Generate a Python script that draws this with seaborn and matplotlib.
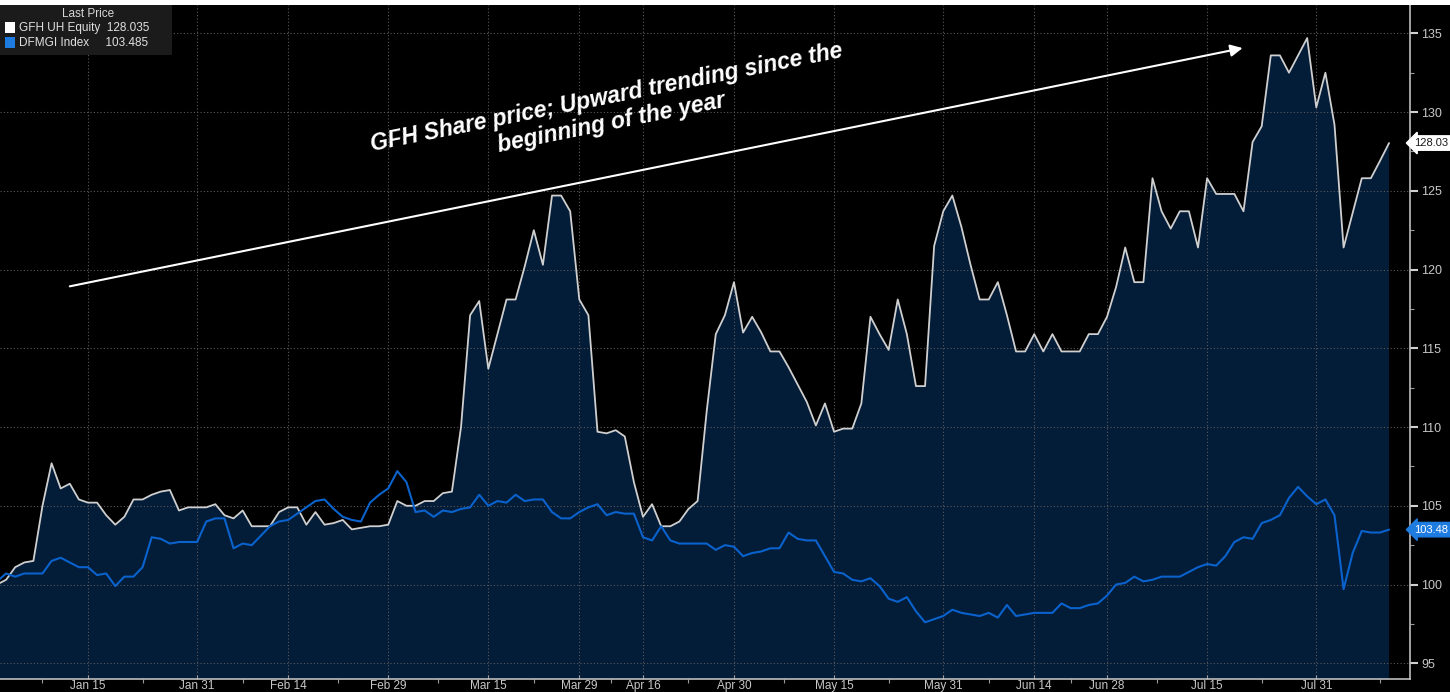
import numpy as np
import pandas as pd
import seaborn as sns
import matplotlib.pyplot as plt
from matplotlib.patches import Rectangle

# trading days (UAE market, Eid holidays removed)
holidays = ["2024-04-08", "2024-04-09", "2024-04-10", "2024-04-11", "2024-04-12",
            "2024-06-17", "2024-06-18"]
dates = pd.bdate_range("2024-01-01", "2024-08-12")
dates = dates[~dates.isin(pd.to_datetime(holidays))]

# GFH UH Equity, rebased to 100
gfh = [100.0, 100.3, 101.1, 101.4, 101.5, 105.0, 107.7, 106.1, 106.4, 105.4,
       105.2, 105.2, 104.4, 103.8, 104.3, 105.4, 105.4, 105.7, 105.9, 106.0,
       104.7, 104.9, 104.9,                                              # Jan
       104.9, 105.1, 104.4, 104.2, 104.7, 103.7, 103.7, 103.7, 104.6, 104.9,
       104.9, 103.8, 104.6, 103.8, 103.9, 104.1, 103.5, 103.6, 103.7, 103.7,
       103.8,                                                            # Feb
       105.3, 105.0, 105.0, 105.3, 105.3, 105.8, 105.9, 110.0, 117.1, 118.0,
       113.7, 115.9, 118.1, 118.1, 120.2, 122.5, 120.3, 124.7, 124.7, 123.7,
       118.1,                                                            # Mar
       117.1, 109.7, 109.6, 109.8, 109.4, 106.5, 104.3, 105.1, 103.7, 103.7,
       104.0, 104.8, 105.3, 111.0, 115.9, 117.1, 119.2,                  # Apr
       116.0, 117.0, 116.0, 114.8, 114.8, 113.8, 112.7, 111.6, 110.1, 111.5,
       109.7, 109.9, 109.9, 111.5, 117.0, 115.9, 114.9, 118.1, 115.9, 112.6,
       112.6, 121.5, 123.7,                                              # May
       124.7, 122.7, 120.3, 118.1, 118.1, 119.2, 117.1, 114.8, 114.8, 115.9,
       114.8, 115.9, 114.8, 114.8, 114.8, 115.9, 115.9, 117.0,           # Jun
       118.9, 121.4, 119.2, 119.2, 125.8, 123.7, 122.6, 123.7, 123.7, 121.4,
       125.8, 124.8, 124.8, 124.8, 123.7, 128.1, 129.1, 133.6, 133.6, 132.5,
       133.6, 134.7, 130.3,                                              # Jul
       132.5, 129.2, 121.4, 123.6, 125.8, 125.8, 126.9, 128.035]         # Aug

# DFMGI Index, rebased to 100
dfmgi = [100.2, 100.7, 100.5, 100.7, 100.7, 100.7, 101.5, 101.7, 101.4, 101.1,
         101.1, 100.6, 100.7, 99.9, 100.5, 100.5, 101.1, 103.0, 102.9, 102.6,
         102.7, 102.7, 102.7,
         104.0, 104.2, 104.2, 102.3, 102.6, 102.5, 103.1, 103.7, 104.0, 104.1,
         104.5, 104.9, 105.3, 105.4, 104.8, 104.3, 104.1, 104.0, 105.2, 105.7,
         106.1,
         107.2, 106.5, 104.6, 104.7, 104.3, 104.7, 104.6, 104.8, 104.9, 105.7,
         105.0, 105.3, 105.2, 105.7, 105.3, 105.4, 105.4, 104.6, 104.2, 104.2,
         104.6,
         104.9, 105.1, 104.4, 104.6, 104.5, 104.5, 103.0, 102.8, 103.7, 102.8,
         102.6, 102.6, 102.6, 102.6, 102.2, 102.5, 102.4,
         101.8, 102.0, 102.1, 102.3, 102.3, 103.3, 102.9, 102.8, 102.8, 101.8,
         100.8, 100.7, 100.3, 100.2, 100.4, 99.9, 99.1, 98.9, 99.2, 98.3,
         97.6, 97.8, 98.0,
         98.4, 98.2, 98.1, 98.0, 98.2, 97.9, 98.7, 98.0, 98.1, 98.2,
         98.2, 98.2, 98.8, 98.5, 98.5, 98.7, 98.8, 99.3,
         100.0, 100.1, 100.5, 100.2, 100.3, 100.5, 100.5, 100.5, 100.8, 101.1,
         101.3, 101.2, 101.8, 102.7, 103.0, 102.9, 103.9, 104.1, 104.4, 105.5,
         106.2, 105.6, 105.1,
         105.4, 104.4, 99.7, 102.0, 103.4, 103.3, 103.3, 103.485]

tick_dates = ["2024-01-15", "2024-01-31", "2024-02-14", "2024-02-29", "2024-03-15",
              "2024-03-29", "2024-04-16", "2024-04-30", "2024-05-15", "2024-05-31",
              "2024-06-14", "2024-06-28", "2024-07-15", "2024-07-31"]
tick_labels = ["Jan 15", "Jan 31", "Feb 14", "Feb 29", "Mar 15", "Mar 29", "Apr 16",
               "Apr 30", "May 15", "May 31", "Jun 14", "Jun 28", "Jul 15", "Jul 31"]
y_ticks = [95, 100, 105, 110, 115, 120, 125, 130, 135]

note = "GFH Share price; Upward trending since the\nbeginning of the year"

df = pd.DataFrame({"pos": np.arange(len(dates)), "GFH": gfh, "DFMGI": dfmgi})

sns.set_theme(style="dark")
plt.rcParams["font.family"] = ["Liberation Sans", "DejaVu Sans"]

W, H = 1450, 692
fig = plt.figure(figsize=(W / 100, H / 100), dpi=100, facecolor="black")
ax = fig.add_axes([0, 13 / H, 1410 / W, (679 - 5) / H])
ax.set_facecolor("black")

fill_col = "#031c38"
grey_col = "#cfcfcf"
blue_col = "#0a62cc"

ax.fill_between(df["pos"], df["GFH"], 90, color=fill_col, zorder=1, lw=0)
sns.lineplot(data=df, x="pos", y="GFH", ax=ax, color=grey_col, lw=1.3, zorder=3)
sns.lineplot(data=df, x="pos", y="DFMGI", ax=ax, color=blue_col, lw=1.5, zorder=4)

ax.set_xlim(0.33, 155.3)

tick_pos = [dates.get_loc(pd.Timestamp(d)) for d in tick_dates]
ax.set_xticks(tick_pos)
ax.set_xticklabels(tick_labels)
minor_x = [(a + b) / 2 for a, b in zip([0] + tick_pos[:-1], tick_pos)] + [tick_pos[-1] + 7]
ax.set_xticks(minor_x, minor=True)

ax.yaxis.tick_right()
ax.set_yticks(y_ticks)
ax.set_yticks([v + 2.5 for v in y_ticks[:-1]] + [92.5, 137.5], minor=True)
ax.set_ylim(94.0, 136.8)

ax.set_xlabel("")
ax.set_ylabel("")
ax.grid(True, which="major", color="#5a5a5a", linestyle=(0, (1, 2)), lw=0.8)
ax.set_axisbelow("line")

for side in ["left", "top"]:
    ax.spines[side].set_visible(False)
for side in ["right", "bottom"]:
    ax.spines[side].set_visible(True)
    ax.spines[side].set_color("#bdbdbd")
    ax.spines[side].set_linewidth(1.2)

ax.tick_params(axis="y", which="major", right=True, direction="out", length=6, width=1.5,
               color="#d0d0d0", labelcolor="#c8c8c8", labelsize=9, pad=2)
ax.tick_params(axis="y", which="minor", right=True, direction="out", length=3, width=0.8,
               color="#9a9a9a")
ax.tick_params(axis="x", which="major", bottom=True, direction="in", length=3, width=0.8,
               color="#9a9a9a", labelcolor="#c8c8c8", labelsize=8.5, pad=0.5)
ax.tick_params(axis="x", which="minor", bottom=True, direction="out", length=3, width=0.8,
               color="#9a9a9a")

# annotation arrow and note
ax.annotate("", xy=(137.2, 134.1), xytext=(7.7, 118.9),
            arrowprops=dict(arrowstyle="-|>", color="white", lw=1.5, mutation_scale=18))
ax.text(67.3, 130.1, note, color="white", fontsize=16.5, fontweight="bold",
        fontstyle="italic", rotation=11.3, ha="center", va="center",
        multialignment="center", linespacing=1.15, rotation_mode="anchor")

# last value tags on the right axis
ax.annotate(f"{gfh[-1]:.2f}", xy=(1.003, gfh[-1]), xycoords=("axes fraction", "data"),
            ha="left", va="center", fontsize=8, color="#1a1a1a",
            bbox=dict(boxstyle="larrow,pad=0.2", fc="white", ec="white"),
            annotation_clip=False)
ax.annotate(f"{dfmgi[-1]:.2f}", xy=(1.003, dfmgi[-1]), xycoords=("axes fraction", "data"),
            ha="left", va="center", fontsize=8, color="white",
            bbox=dict(boxstyle="larrow,pad=0.2", fc="#1e7be0", ec="#1e7be0"),
            annotation_clip=False)


# legend box (Bloomberg style)
def fx(x):
    return x / W


def fy(y):
    return 1 - y / H


fig.patches.append(Rectangle((0, fy(55)), fx(172), fy(5) - fy(55), transform=fig.transFigure,
                             fc="#1b1b1b", ec="none", zorder=5))
fig.text(fx(88), fy(14), "Last Price", color="#d8d8d8", fontsize=8.5, ha="center",
         va="center", zorder=6)
fig.patches.append(Rectangle((fx(5), fy(33)), fx(10), fy(22) - fy(33),
                             transform=fig.transFigure, fc="white", ec="none", zorder=6))
fig.patches.append(Rectangle((fx(5), fy(48)), fx(10), fy(37) - fy(48),
                             transform=fig.transFigure, fc="#1e7be0", ec="none", zorder=6))
fig.text(fx(19), fy(28), f"GFH UH Equity  {gfh[-1]:.3f}", color="#e0e0e0", fontsize=8.5,
         ha="left", va="center", zorder=6)
fig.text(fx(19), fy(43), f"DFMGI Index     {dfmgi[-1]:.3f}", color="#e0e0e0", fontsize=8.5,
         ha="left", va="center", zorder=6)

# thin white strip at the very top
fig.patches.append(Rectangle((0, fy(5)), 1, 1 - fy(5), transform=fig.transFigure,
                             fc="white", ec="none", zorder=7))

fig.savefig("out.png", dpi=100, facecolor="black")
